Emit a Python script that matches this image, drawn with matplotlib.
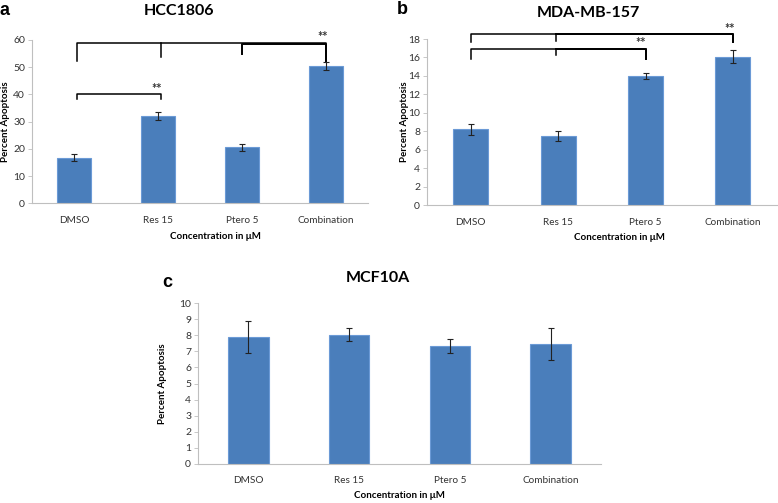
import matplotlib
matplotlib.use("Agg")
import matplotlib.pyplot as plt
import numpy as np

plt.rcParams["font.family"] = ["Lato", "DejaVu Sans"]

categories = ["DMSO", "Res 15", "Ptero 5", "Combination"]

# percent apoptosis
hcc1806_mean = [16.8, 32.0, 20.6, 50.5]
hcc1806_err = [1.3, 1.4, 1.3, 1.4]
mdamb157_mean = [8.2, 7.5, 14.0, 16.1]
mdamb157_err = [0.6, 0.55, 0.3, 0.7]
mcf10a_mean = [7.88, 8.05, 7.33, 7.44]
mcf10a_err = [1.0, 0.38, 0.45, 1.0]

BAR = "#4a7ebb"
EDGE = "#6b9ad6"
SPINE = "#bfbfbf"


def style_axes(ax, ymax, step):
    ax.set_xlim(-0.5, 3.5)
    ax.set_ylim(0, ymax)
    ax.set_yticks(np.arange(0, ymax + step / 2, step))
    ax.set_xticks(range(len(categories)))
    ax.set_xticklabels(categories)
    for side in ["top", "right"]:
        ax.spines[side].set_visible(False)
    for side in ["left", "bottom"]:
        ax.spines[side].set_color(SPINE)
        ax.spines[side].set_linewidth(0.8)
    ax.tick_params(axis="y", length=3, width=0.6, color=SPINE,
                   labelsize=7.5, labelcolor="#333333", pad=2)
    ax.tick_params(axis="x", length=0, labelsize=7.2,
                   labelcolor="#333333", pad=9)


def draw_bars(ax, means, errs):
    x = np.arange(len(categories))
    ax.bar(x, means, width=0.4, color=BAR, edgecolor=EDGE, linewidth=0.8)
    ax.errorbar(x, means, yerr=errs, fmt="none", ecolor="#222222",
                elinewidth=0.8, capsize=2.2, capthick=0.8)


def bracket(ax, x0, x1, y, drop0, drop1, lw=1.1):
    ax.plot([x0, x0, x1, x1], [drop0, y, y, drop1], color="black",
            lw=lw, clip_on=False, solid_joinstyle="round")


def tick_down(ax, x, y, drop, lw=1.1):
    ax.plot([x, x], [y, drop], color="black", lw=lw, clip_on=False)


def stars(ax, x, y):
    ax.text(x, y, "**", ha="center", va="center", fontsize=9,
            fontweight="bold", color="#333333", clip_on=False)


fig = plt.figure(figsize=(7.78, 5.03), dpi=100)

# panel a
ax_a = fig.add_axes([0.0411, 0.5958, 0.432, 0.3247])
draw_bars(ax_a, hcc1806_mean, hcc1806_err)
style_axes(ax_a, 60, 10)
bracket(ax_a, 0.04, 3.0, 58.8, 52.3, 52.4)
tick_down(ax_a, 1.04, 58.8, 53.9)
bracket(ax_a, 2.0, 3.0, 58.7, 54.8, 52.4, lw=1.4)
stars(ax_a, 2.96, 61.2)
bracket(ax_a, 0.04, 1.04, 40.1, 38.3, 38.3)
stars(ax_a, 0.98, 41.9)
ax_a.set_ylabel("Percent Apoptosis", fontsize=7, fontweight="bold")
ax_a.yaxis.set_label_coords(-0.066, 0.5)
ax_a.set_xlabel("Concentration in μM", fontsize=7, fontweight="bold",
                va="center")
ax_a.xaxis.set_label_coords(0.545, -0.205)

# panel b
ax_b = fig.add_axes([0.5488, 0.5924, 0.4495, 0.330])
draw_bars(ax_b, mdamb157_mean, mdamb157_err)
style_axes(ax_b, 18, 2)
bracket(ax_b, 0.0, 3.0, 18.55, 17.65, 17.65)
tick_down(ax_b, 0.98, 18.55, 17.8)
bracket(ax_b, 0.98, 3.0, 18.55, 18.55, 17.65, lw=1.4)
stars(ax_b, 2.96, 19.1)
bracket(ax_b, 0.0, 2.0, 16.9, 15.8, 15.8)
tick_down(ax_b, 0.98, 16.9, 16.3)
bracket(ax_b, 0.98, 2.0, 16.9, 16.9, 15.8, lw=1.4)
stars(ax_b, 1.94, 17.6)
ax_b.set_ylabel("Percent Apoptosis", fontsize=7, fontweight="bold")
ax_b.yaxis.set_label_coords(-0.05, 0.5)
ax_b.set_xlabel("Concentration in μM", fontsize=7, fontweight="bold",
                va="center")
ax_b.xaxis.set_label_coords(0.549, -0.193)

# panel c
ax_c = fig.add_axes([0.2545, 0.0781, 0.518, 0.3189])
draw_bars(ax_c, mcf10a_mean, mcf10a_err)
style_axes(ax_c, 10, 1)
ax_c.set_ylabel("Percent Apoptosis", fontsize=7, fontweight="bold")
ax_c.yaxis.set_label_coords(-0.077, 0.5)
ax_c.set_xlabel("Concentration in μM", fontsize=7, fontweight="bold",
                va="center")
ax_c.xaxis.set_label_coords(0.5, -0.2)

# titles and panel letters
fig.text(0.230, 0.978, "HCC1806", ha="center", va="center",
         fontsize=11.5, fontweight="bold")
fig.text(0.756, 0.974, "MDA-MB-157", ha="center", va="center",
         fontsize=11.5, fontweight="bold")
fig.text(0.486, 0.447, "MCF10A", ha="center", va="center",
         fontsize=11.5, fontweight="bold")
for x, y, letter in [(0.0, 0.979, "a"), (0.510, 0.981, "b"),
                     (0.208, 0.439, "c")]:
    fig.text(x, y, letter, ha="left", va="center", fontsize=13,
             fontweight="bold", family="Liberation Sans")

fig.savefig("out.png", dpi=100)
